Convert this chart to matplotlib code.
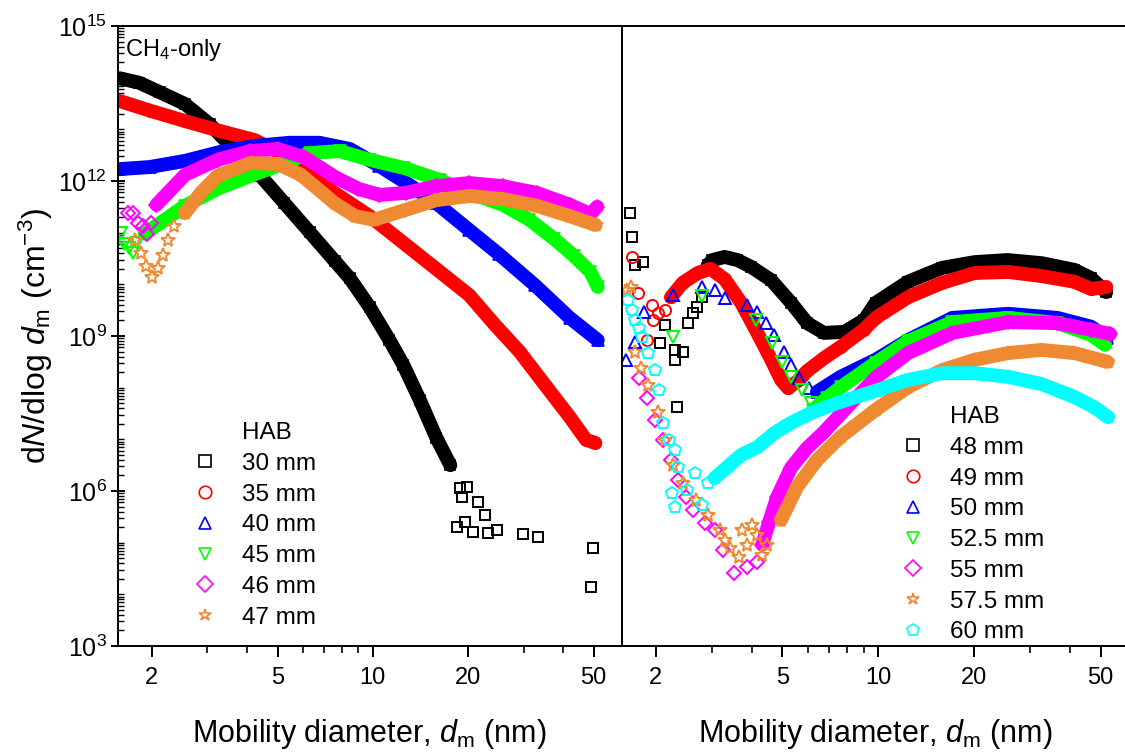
import numpy as np
import matplotlib
matplotlib.use("Agg")
import matplotlib.pyplot as plt
from matplotlib.lines import Line2D
from matplotlib.ticker import FixedLocator, FuncFormatter, LogLocator, LogFormatterMathtext, NullFormatter

plt.rcParams["font.family"] = ["Liberation Sans", "DejaVu Sans"]
plt.rcParams["mathtext.fontset"] = "custom"
plt.rcParams["mathtext.rm"] = "Liberation Sans"
plt.rcParams["mathtext.it"] = "Liberation Sans:italic"
plt.rcParams["mathtext.bf"] = "Liberation Sans:bold"

# size distributions, d in nm, lg = log10(dN/dlog dm) in cm^-3
# *_pts : sparse scans (symbols only), the rest: dense scans

# ---- CH4-only flame, HAB 30-47 mm ----
d30 = [1.58, 1.83, 2.12, 2.55, 3.05, 3.66, 4.42, 5.26, 6.32, 7.59, 8.46, 9.78, 11.3, 12.5, 14.1, 15.9, 17.6]
lg30 = [13.99, 13.90, 13.72, 13.49, 13.10, 12.60, 12.10, 11.57, 11.01, 10.45, 10.12, 9.56, 8.92, 8.44, 7.76, 7.03, 6.50]
d30_pts = [18.5, 18.9, 19.1, 19.6, 19.9, 20.8, 21.5, 22.6, 23.1, 24.8, 29.8, 33.3, 49.2, 49.9]
lg30_pts = [5.30, 6.06, 5.88, 5.40, 6.08, 5.21, 5.79, 5.54, 5.19, 5.25, 5.17, 5.11, 4.14, 4.90]

d35 = [1.58, 1.98, 2.55, 3.28, 4.24, 5.46, 7.58, 9.78, 14.1, 20.2, 24.4, 29.2, 35.5, 42.0, 47.3, 50.6]
lg35 = [13.55, 13.36, 13.16, 12.97, 12.79, 12.45, 11.77, 11.32, 10.55, 9.79, 9.21, 8.69, 8.01, 7.43, 6.99, 6.93]

d40 = [1.58, 1.97, 2.55, 3.28, 4.24, 5.46, 6.78, 8.46, 10.5, 13.1, 15.9, 20.2, 25.0, 32.5, 42.0, 51.5]
lg40 = [12.23, 12.27, 12.39, 12.56, 12.68, 12.74, 12.74, 12.62, 12.29, 11.92, 11.57, 11.05, 10.59, 9.99, 9.35, 8.92]

d45_pts = [1.60, 1.64, 1.70, 1.74, 1.80]
lg45_pts = [11.00, 10.79, 10.70, 10.60, 10.80]
d45 = [1.90, 2.55, 3.23, 4.11, 5.07, 6.32, 7.86, 9.78, 12.6, 16.3, 20.2, 25.8, 31.3, 37.5, 43.3, 48.8, 51.5]
lg45 = [10.98, 11.52, 11.85, 12.10, 12.31, 12.54, 12.58, 12.41, 12.25, 12.02, 11.77, 11.54, 11.25, 10.88, 10.55, 10.24, 9.95]

d46_pts = [1.68, 1.75, 1.81, 1.88, 1.94, 1.99]
lg46_pts = [11.38, 11.38, 11.18, 11.13, 10.98, 11.18]
d46 = [2.07, 2.55, 3.23, 4.08, 5.0, 6.08, 7.58, 9.0, 10.5, 12.7, 15.9, 20.2, 25.8, 33.0, 42.0, 48.8, 51.3]
lg46 = [11.54, 12.12, 12.41, 12.58, 12.62, 12.46, 12.08, 11.85, 11.73, 11.77, 11.90, 11.96, 11.90, 11.77, 11.54, 11.36, 11.50]

d47_pts = [1.77, 1.85, 1.92, 2.00, 2.09, 2.17, 2.25, 2.36]
lg47_pts = [10.86, 10.61, 10.36, 10.14, 10.32, 10.57, 10.86, 11.13]
d47 = [2.55, 2.86, 3.23, 4.11, 5.0, 5.93, 7.58, 8.8, 10.1, 12.4, 15.9, 20.2, 25.8, 33.0, 42.0, 50.7]
lg47 = [11.38, 11.77, 12.10, 12.35, 12.33, 12.12, 11.57, 11.32, 11.25, 11.42, 11.63, 11.71, 11.65, 11.52, 11.32, 11.15]

# ---- HAB 48-60 mm ----
d48_pts = [1.66, 1.68, 1.72, 1.82, 2.06, 2.14, 2.29, 2.29, 2.33, 2.43, 2.52, 2.61, 2.69, 2.80]
lg48_pts = [11.38, 10.92, 10.37, 10.43, 8.86, 9.21, 8.73, 8.54, 7.63, 8.69, 9.25, 9.45, 9.56, 9.76]
d48 = [2.91, 3.01, 3.29, 3.61, 3.98, 4.61, 5.33, 5.98, 6.75, 7.82, 9.04, 9.81, 12.4, 15.9, 20.1, 25.5, 32.6, 41.4, 46.7, 52.1]
lg48 = [10.37, 10.47, 10.53, 10.47, 10.34, 10.08, 9.64, 9.25, 9.06, 9.08, 9.31, 9.64, 10.05, 10.32, 10.43, 10.47, 10.41, 10.28, 10.12, 9.85]

d49_pts = [1.68, 1.76, 1.88, 1.94, 1.96, 2.03, 2.13]
lg49_pts = [10.53, 9.83, 8.92, 9.60, 9.31, 9.45, 9.50]
d49 = [2.23, 2.43, 2.71, 2.97, 3.29, 3.71, 4.17, 4.61, 4.95, 5.21, 5.64, 5.97, 6.75, 7.62, 9.00, 9.81, 12.4, 15.9, 20.1, 25.6, 32.6, 41.4, 46.7, 52.1]
lg49 = [9.75, 10.03, 10.22, 10.30, 10.10, 9.64, 9.06, 8.54, 8.15, 7.99, 8.15, 8.32, 8.57, 8.79, 9.12, 9.35, 9.75, 10.03, 10.22, 10.24, 10.16, 10.05, 9.91, 9.95]

d50_pts = [1.61, 1.72, 1.83, 2.26, 2.80, 3.06, 3.31, 3.88, 4.17, 4.44, 4.71, 5.05, 5.32, 5.64, 6.06]
lg50_pts = [8.54, 8.89, 9.47, 9.79, 9.95, 9.89, 9.74, 9.60, 9.47, 9.25, 9.02, 8.69, 8.44, 8.19, 7.99]
d50 = [6.42, 7.62, 9.81, 12.4, 17.1, 25.6, 36.6, 46.7, 52.4]
lg50 = [7.92, 8.21, 8.54, 8.92, 9.35, 9.43, 9.35, 9.18, 8.96]

d52_pts = [2.26, 2.80, 4.14, 4.64, 4.99, 5.32, 5.76, 6.15]
lg52_pts = [8.98, 9.77, 9.31, 8.87, 8.50, 8.21, 7.96, 7.70]
d52 = [6.24, 6.89, 7.62, 9.81, 12.4, 17.1, 25.6, 36.6, 46.7, 51.7]
lg52 = [7.57, 7.80, 8.01, 8.48, 8.90, 9.27, 9.35, 9.25, 9.02, 8.83]

d55_pts = [1.77, 1.88, 1.99, 2.10, 2.23, 2.34, 2.48, 2.61, 2.85, 3.06, 3.24, 3.53, 3.88, 4.17]
lg55_pts = [8.19, 7.80, 7.37, 6.99, 6.60, 6.21, 5.88, 5.63, 5.38, 5.25, 4.86, 4.41, 4.53, 4.63]
d55 = [4.32, 4.54, 4.81, 5.32, 5.97, 6.75, 8.20, 9.81, 12.4, 17.1, 25.6, 36.6, 46.7, 53.6]
lg55 = [4.96, 5.40, 5.88, 6.45, 6.83, 7.14, 7.70, 8.19, 8.67, 9.06, 9.27, 9.25, 9.12, 9.04]

d57_pts = [1.62, 1.67, 1.72, 1.80, 1.89, 2.03, 2.13, 2.26, 2.43, 2.67, 2.91, 3.17, 3.29, 3.41, 3.66, 3.74, 3.88, 4.01, 4.17, 4.32, 4.48]
lg57_pts = [9.89, 9.95, 8.69, 8.38, 8.05, 7.53, 6.99, 6.50, 6.16, 5.83, 5.54, 5.25, 5.05, 4.90, 4.72, 5.25, 4.96, 5.34, 5.15, 4.76, 4.96]
d57 = [4.95, 5.56, 6.42, 7.62, 9.81, 12.4, 15.9, 20.1, 25.6, 32.6, 41.4, 52.6]
lg57 = [5.44, 6.08, 6.60, 7.05, 7.57, 8.01, 8.34, 8.54, 8.67, 8.73, 8.67, 8.50]

d60_pts = [1.64, 1.68, 1.72, 1.77, 1.81, 1.89, 1.99, 2.04, 2.10, 2.20, 2.29, 2.34, 2.24, 2.29, 2.50, 2.65, 2.79, 2.91]
lg60_pts = [9.70, 9.50, 9.31, 9.16, 8.98, 8.67, 8.34, 7.96, 7.32, 6.99, 6.79, 6.47, 5.96, 5.69, 6.02, 6.35, 5.73, 6.16]
d60 = [3.06, 3.36, 3.71, 4.17, 4.71, 5.32, 6.15, 7.41, 9.81, 12.4, 15.9, 20.1, 25.6, 32.6, 41.4, 48.1, 52.8]
lg60 = [6.25, 6.47, 6.70, 6.85, 7.12, 7.32, 7.51, 7.70, 7.94, 8.15, 8.28, 8.28, 8.21, 8.07, 7.82, 7.61, 7.43]

left_labels = ["30 mm", "35 mm", "40 mm", "45 mm", "46 mm", "47 mm"]
right_labels = ["48 mm", "49 mm", "50 mm", "52.5 mm", "55 mm", "57.5 mm", "60 mm"]

BLACK, RED, BLUE, GREEN = "#000000", "#ff0000", "#0000ff", "#00ff00"
MAGENTA, ORANGE, CYAN = "#ff00ff", "#ef8a32", "#00ffff"
BAND_LW = 10


def draw(ax, color, marker, ms, d_band=None, lg_band=None, d_pts=None, lg_pts=None):
    if d_band:
        n = 10.0 ** np.array(lg_band)
        ax.plot(d_band, n, "-", color=color, lw=BAND_LW,
                solid_capstyle="round", solid_joinstyle="round")
        ax.plot(d_band, n, ls="none", marker=marker, ms=ms, mfc="none", mec=color, mew=1.2)
    if d_pts:
        ax.plot(d_pts, 10.0 ** np.array(lg_pts), ls="none", marker=marker, ms=ms,
                mfc="none", mec=color, mew=1.4)


def style_axis(ax):
    ax.set_xscale("log")
    ax.set_yscale("log")
    ax.set_xlim(1.565, 61)
    ax.set_ylim(1e3, 1e15)
    for s in ax.spines.values():
        s.set_linewidth(1.4)
    ax.xaxis.set_major_locator(FixedLocator([2, 5, 10, 20, 50]))
    ax.xaxis.set_major_formatter(FuncFormatter(lambda v, p: "%g" % v))
    ax.xaxis.set_minor_locator(FixedLocator([3, 4, 6, 7, 8, 9, 30, 40]))
    ax.xaxis.set_minor_formatter(NullFormatter())
    ax.tick_params(axis="x", which="major", direction="out", length=8, width=1.4,
                   labelsize=17, pad=7, top=False)
    ax.tick_params(axis="x", which="minor", direction="out", length=5, width=1.2, top=False)
    ax.set_xlabel("Mobility diameter, $d_{\\mathrm{m}}$ (nm)", fontsize=22, labelpad=20)


def legend_handles(colors, markers, labels):
    hs = [Line2D([], [], ls="none", label="HAB")]
    for c, m, lab in zip(colors, markers, labels):
        hs.append(Line2D([], [], ls="none", marker=m, ms=9 if m != "D" else 8,
                         mfc="none", mec=c, mew=1.2, label=lab))
    return hs


fig = plt.figure(figsize=(11.25, 7.56), dpi=100)
ax1 = fig.add_axes([118 / 1125, 110 / 756, 503 / 1125, 620 / 756])
ax2 = fig.add_axes([622 / 1125, 110 / 756, 506 / 1125, 620 / 756])
style_axis(ax1)
style_axis(ax2)

# left: HAB 30-47 mm
draw(ax1, BLACK, "s", 7, d30, lg30, d30_pts, lg30_pts)
draw(ax1, RED, "o", 8, d35, lg35)
draw(ax1, BLUE, "^", 8.5, d40, lg40)
draw(ax1, GREEN, "v", 8.5, d45, lg45, d45_pts, lg45_pts)
draw(ax1, MAGENTA, "D", 7, d46, lg46, d46_pts, lg46_pts)
draw(ax1, ORANGE, "*", 10, d47, lg47, d47_pts, lg47_pts)

# right: HAB 48-60 mm
draw(ax2, BLACK, "s", 7, d48, lg48, d48_pts, lg48_pts)
draw(ax2, RED, "o", 8, d49, lg49, d49_pts, lg49_pts)
draw(ax2, BLUE, "^", 8.5, d50, lg50, d50_pts, lg50_pts)
draw(ax2, GREEN, "v", 8.5, d52, lg52, d52_pts, lg52_pts)
draw(ax2, MAGENTA, "D", 7, d55, lg55, d55_pts, lg55_pts)
draw(ax2, ORANGE, "*", 10, d57, lg57, d57_pts, lg57_pts)
draw(ax2, CYAN, "p", 9, d60, lg60, d60_pts, lg60_pts)

# y axis only on the left panel
ax1.yaxis.set_major_locator(FixedLocator([1e3, 1e6, 1e9, 1e12, 1e15]))
ax1.yaxis.set_major_formatter(LogFormatterMathtext())
ax1.yaxis.set_minor_locator(LogLocator(base=10, subs=np.arange(1, 10), numticks=100))
ax1.yaxis.set_minor_formatter(NullFormatter())
ax1.tick_params(axis="y", which="major", direction="inout", length=10, width=1.4, labelsize=18, pad=3)
ax1.tick_params(axis="y", which="minor", direction="in", length=4, width=1.0)
ax1.set_ylabel("d$N$/dlog $d_{\\mathrm{m}}$ (cm$^{-3}$)", fontsize=23, labelpad=2)
ax1.spines["right"].set_visible(False)
ax2.tick_params(axis="y", which="both", left=False, right=False, labelleft=False)

ax1.text(0.014, 0.982, "CH$_4$-only", transform=ax1.transAxes, fontsize=17, va="top", ha="left")

markers_l = ["s", "o", "^", "v", "D", "*"]
colors_l = [BLACK, RED, BLUE, GREEN, MAGENTA, ORANGE]
markers_r = ["s", "o", "^", "v", "D", "*", "p"]
colors_r = [BLACK, RED, BLUE, GREEN, MAGENTA, ORANGE, CYAN]

leg_kw = dict(frameon=False, fontsize=17.5, handlelength=1.0, handletextpad=1.0,
              labelspacing=0.36, borderpad=0, borderaxespad=0, loc="upper left",
              bbox_transform=fig.transFigure)
ax1.legend(handles=legend_handles(colors_l, markers_l, left_labels),
           bbox_to_anchor=(193 / 1125, 1 - 422 / 756), **leg_kw)
ax2.legend(handles=legend_handles(colors_r, markers_r, right_labels),
           bbox_to_anchor=(901 / 1125, 1 - 406 / 756), **leg_kw)

fig.savefig("out.png", dpi=100)
